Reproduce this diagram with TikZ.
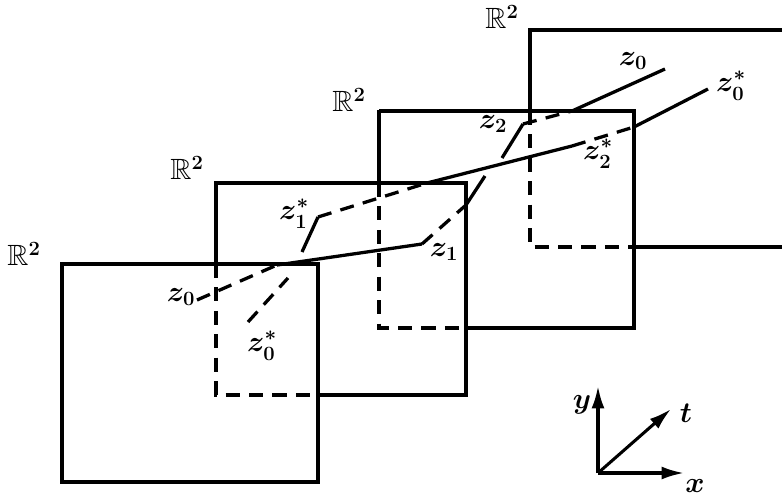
\documentclass[tikz,border=0pt]{standalone}
\usepackage{amssymb}
\usetikzlibrary{arrows.meta}
\tikzset{
  edge/.style={line width=2.6pt, line join=miter},
  hid/.style={line width=2.6pt, dash pattern=on 12pt off 8pt},
  path/.style={line width=2.8pt},
  hpath/.style={line width=2.8pt, dash pattern=on 12pt off 8pt},
  lbl/.style={font=\fontsize{25}{29}\selectfont\boldmath, inner sep=0pt},
  ax/.style={line width=2.6pt, -{Latex[length=19pt,width=11pt]}}
}
\begin{document}
\begin{tikzpicture}[x=0.03cm,y=-0.03cm]
\useasboundingbox (0,0) rectangle (782,497);
% square 1 (front)
\draw[edge] (62,264) rectangle (318,482);
% square 2
\draw[edge] (216,264) -- (216,183) -- (466,183) -- (466,395) -- (318,395);
\draw[hid] (216,264) -- (216,395) -- (318,395);
% square 3
\draw[edge] (466,328) -- (634,328) -- (634,111) -- (379,111);
\draw[line width=3.4pt] (379,109.6) -- (379,183);
\draw[hid] (379,183) -- (379,328) -- (466,328);
% square 4
\draw[edge] (530,111) -- (530,30) -- (790,30);
\draw[edge] (634,247) -- (790,247);
\draw[hid] (530,111) -- (530,247) -- (634,247);
% labels R^2
\node[lbl] (r1) at (24,254) {$\mathbb{R}^2$};
\node[lbl] (r2) at (187,168) {$\mathbb{R}^2$};
\node[lbl] (r3) at (349,100) {$\mathbb{R}^2$};
\node[lbl] (r4) at (502,17) {$\mathbb{R}^2$};
% points
\coordinate (pz0) at (197,300);
\coordinate (pa) at (277,265);
\coordinate (pz1) at (422,244);
\coordinate (pz0s) at (248,322);
\coordinate (pb1) at (288,278);
\coordinate (pb2) at (302,252);
\coordinate (pz1s) at (318,217);
\coordinate (pc1) at (427,183);
\coordinate (pz2s) at (572,146);
\coordinate (pc2) at (634,127);
\coordinate (pfz0s) at (708,89);
\coordinate (pd1) at (466,205);
\coordinate (pd2) at (485,176);
\coordinate (pd3) at (502,158);
\coordinate (pz2) at (523,124);
\coordinate (pe1) at (572,111);
\coordinate (pfz0) at (665,69);
% paths
\draw[hpath] (pz0) -- (pa);
\draw[path] (pa) -- (pz1);
\draw[hpath] (pz0s) -- (pb1);
\draw[path] (pb2) -- (pz1s);
\draw[hpath] (pz1s) -- (pc1);
\draw[path] (pc1) -- (pz2s);
\draw[hpath] (pz2s) -- (pc2);
\draw[path] (pc2) -- (pfz0s);
\draw[hpath] (pz1) -- (pd1);
\draw[path] (pd1) -- (pd2);
\draw[path] (pd3) -- (pz2);
\draw[hpath] (pz2) -- (pe1);
\draw[path] (pe1) -- (pfz0);
% point labels
\node[lbl] (lz0) at (181,297) {$z_0$};
\node[lbl] (lz0s) at (262,346) {$z_0^*$};
\node[lbl] (lz1s) at (294,214) {$z_1^*$};
\node[lbl] (lz1) at (444,252) {$z_1$};
\node[lbl] (lz2) at (493,124) {$z_2$};
\node[lbl] (lz2s) at (598,154) {$z_2^*$};
\node[lbl] (lfz0) at (633,61) {$z_0$};
\node[lbl] (lfz0s) at (731,86) {$z_0^*$};
% axes
\coordinate (o) at (598,473);
\coordinate (ay) at (598,386);
\coordinate (axx) at (684,473);
\coordinate (at) at (671,409);
\draw[ax] (o) -- (ay);
\draw[ax] (o) -- (axx);
\draw[ax] (o) -- (at);
\node[lbl] (ly) at (582,405) {$y$};
\node[lbl] (lt) at (686,413) {$t$};
\node[lbl] (lx) at (695,486) {$x$};
\end{tikzpicture}
\end{document}
